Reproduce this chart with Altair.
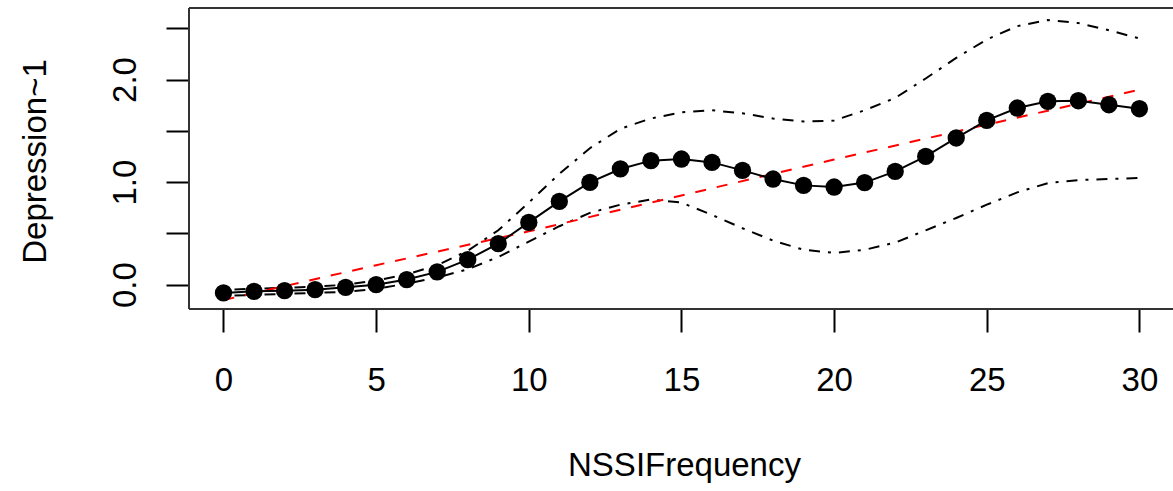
import altair as alt
import pandas as pd

# ---- data ----
nssi = list(range(31))
estimate = [-0.080, -0.065, -0.058, -0.049, -0.026, 0.000, 0.050, 0.125, 0.244, 0.400,
            0.607, 0.812, 0.997, 1.128, 1.209, 1.225, 1.192, 1.114, 1.030, 0.968,
            0.952, 0.995, 1.104, 1.250, 1.430, 1.601, 1.722, 1.787, 1.793, 1.754, 1.715]
upper = [-0.05, -0.04, -0.03, -0.02, 0.00, 0.04, 0.10, 0.19, 0.33, 0.53,
         0.80, 1.08, 1.33, 1.52, 1.62, 1.68, 1.70, 1.67, 1.62, 1.59,
         1.60, 1.70, 1.82, 2.01, 2.21, 2.39, 2.52, 2.58, 2.55, 2.48, 2.40]
lower = [-0.11, -0.10, -0.09, -0.08, -0.07, -0.04, 0.01, 0.07, 0.15, 0.27,
         0.42, 0.57, 0.70, 0.78, 0.83, 0.80, 0.68, 0.55, 0.43, 0.34,
         0.31, 0.34, 0.41, 0.53, 0.65, 0.78, 0.90, 0.99, 1.02, 1.03, 1.04]
linear_x = [0, 5, 10, 15, 20, 25, 30]
linear_y = [-0.15, 0.19, 0.52, 0.87, 1.22, 1.56, 1.90]

x_ticks = [0, 5, 10, 15, 20, 25, 30]
y_ticks = [0, 0.5, 1.0, 1.5, 2.0, 2.5]

est_df = pd.DataFrame({"x": nssi, "y": estimate})
band_df = pd.concat([
    pd.DataFrame({"x": nssi, "y": upper, "band": "upper"}),
    pd.DataFrame({"x": nssi, "y": lower, "band": "lower"}),
])
lin_df = pd.DataFrame({"x": linear_x, "y": linear_y})

W, H = 984, 301
FONT = "Liberation Sans"

x_axis = alt.Axis(values=x_ticks, tickSize=23, tickWidth=2, tickColor="black",
                  domain=False, grid=False, labelFont=FONT, labelFontSize=33,
                  labelColor="black", labelPadding=32, labelFlush=False,
                  labelOverlap=False, title="NSSIFrequency", titleFont=FONT,
                  titleFontSize=33, titleFontWeight="normal", titleColor="black",
                  titleX=495, titleY=166, titleBaseline="alphabetic",
                  titleAlign="center")
y_axis = alt.Axis(values=y_ticks, tickSize=23, tickWidth=2, tickColor="black",
                  domain=False, grid=False, labelFont=FONT, labelFontSize=33,
                  labelColor="black", labelAngle=270, labelAlign="center",
                  labelBaseline="alphabetic", labelPadding=31, labelFlush=False,
                  labelOverlap=False,
                  labelExpr="datum.value % 1 == 0 ? format(datum.value, '.1f') : ''",
                  title="Depression~1", titleFont=FONT, titleFontSize=33,
                  titleFontWeight="normal", titleColor="black", titleAngle=270,
                  titleX=-144, titleY=153, titleBaseline="alphabetic",
                  titleAlign="center")

xs = alt.Scale(domain=[-1.13, 31.10], nice=False, zero=False)
ys = alt.Scale(domain=[-0.237, 2.697], nice=False, zero=False)

def X():
    return alt.X("x:Q", scale=xs, axis=x_axis)

def Y():
    return alt.Y("y:Q", scale=ys, axis=y_axis)

bands = alt.Chart(band_df).mark_line(color="black", strokeWidth=2,
                                     strokeDash=[3, 8, 11, 8]).encode(
    x=X(), y=Y(), detail="band:N")
linear = alt.Chart(lin_df).mark_line(color="#ff0000", strokeWidth=2,
                                     strokeDash=[11, 11]).encode(x=X(), y=Y())
est_line = alt.Chart(est_df).mark_line(color="black", strokeWidth=2).encode(x=X(), y=Y())
est_pts = alt.Chart(est_df).mark_circle(color="black", opacity=1, size=300).encode(x=X(), y=Y())

one = pd.DataFrame({"a": [0]})
box_color = "#333333"
top_rule = alt.Chart(one).mark_rule(color=box_color, strokeWidth=2).encode(
    x=alt.value(0), x2=alt.value(W), y=alt.value(0))
bot_rule = alt.Chart(one).mark_rule(color=box_color, strokeWidth=2).encode(
    x=alt.value(0), x2=alt.value(W), y=alt.value(H))
left_rule = alt.Chart(one).mark_rule(color=box_color, strokeWidth=2).encode(
    x=alt.value(0), y=alt.value(0), y2=alt.value(H))

chart = alt.layer(bands, linear, est_line, est_pts, top_rule, bot_rule, left_rule).properties(
    width=W, height=H,
    autosize=alt.AutoSizeParams(type="none"),
    padding={"left": 189, "top": 8, "right": 0, "bottom": 182},
    background="white",
).configure_view(stroke=None)

chart.save("out.html", embed_options={"renderer": "svg", "actions": False})
